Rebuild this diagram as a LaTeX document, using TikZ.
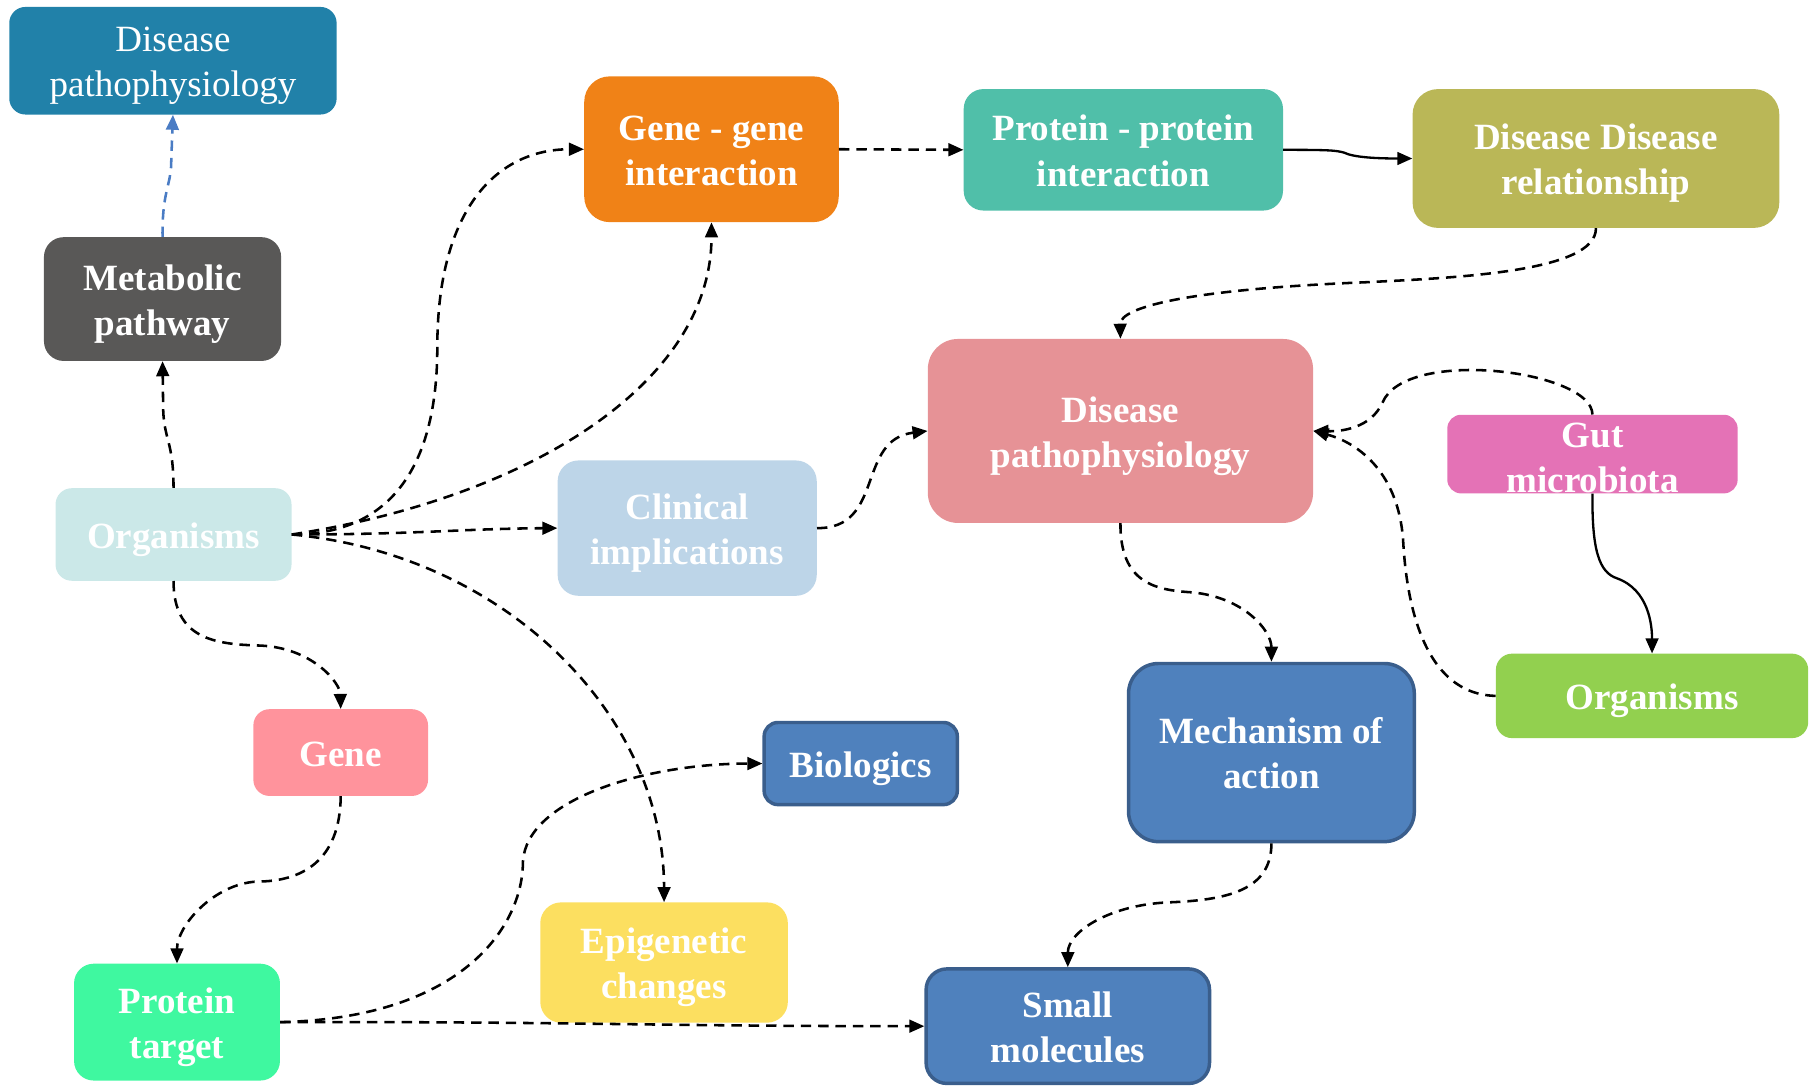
\documentclass[tikz,border=0pt]{standalone}
\usepackage{fontspec}
\setmainfont{Liberation Serif}
\usetikzlibrary{arrows.meta}

\definecolor{cDPa}{HTML}{2181A9}
\definecolor{cMet}{HTML}{595857}
\definecolor{cGG}{HTML}{F08217}
\definecolor{cPPI}{HTML}{50BFA9}
\definecolor{cDDR}{HTML}{BAB757}
\definecolor{cDPb}{HTML}{E69296}
\definecolor{cGut}{HTML}{E472B6}
\definecolor{cOrgA}{HTML}{CBE8E8}
\definecolor{cClin}{HTML}{BDD5E8}
\definecolor{cOrgB}{HTML}{92D04F}
\definecolor{cGene}{HTML}{FF939C}
\definecolor{cBlue}{HTML}{4F81BD}
\definecolor{cBlueEdge}{HTML}{3A5E8C}
\definecolor{cEpi}{HTML}{FCDF60}
\definecolor{cPT}{HTML}{3FF8A0}
\definecolor{cLink}{HTML}{4A7CC4}

% centred label lines, each line a full strut, set a touch low in its box
\newcommand\boxlines[1]{\raisebox{-4pt}[\height][\depth]{\begin{tabular}{@{}c@{}}#1\end{tabular}}}
% same, but taking no room, so the text may spill over a small box
\newcommand\boxlinesflat[1]{\raisebox{-12pt}[0pt][0pt]{\begin{tabular}{@{}c@{}}#1\end{tabular}}}

\tikzset{
  box/.style={rounded corners=17pt, text=white, inner sep=0pt,
    font=\fontsize{32}{39}\selectfont\bfseries},
  bluebox/.style={box, fill=cBlue, draw=cBlueEdge, line width=3pt, rounded corners=20pt},
  dashlink/.style={line width=2.2pt, dash pattern=on 9pt off 6pt,
    -{Triangle[length=13pt,width=11pt]}},
  solidlink/.style={line width=2pt, -{Triangle[length=13pt,width=11pt]}}
}

\begin{document}
\begin{tikzpicture}[x=1pt,y=-1pt]
\useasboundingbox (0,0) rectangle (1568,940);

% boxes
\node[box, fill=cDPa, minimum width=283pt, minimum height=93pt, rounded corners=14pt,
      font=\fontsize{32}{39}\selectfont] (dpa) at (149.5,52.5) {\boxlines{Disease\\pathophysiology}};
\node[box, fill=cMet, minimum width=205pt, minimum height=107pt] (met) at (140.5,258.5) {\boxlines{Metabolic\\pathway}};
\node[box, fill=cGG, minimum width=220pt, minimum height=126pt, rounded corners=22pt] (gg) at (615,129) {\boxlines{Gene - gene\\interaction}};
\node[box, fill=cPPI, minimum width=276pt, minimum height=105pt] (ppi) at (971,129.5) {\boxlines{Protein - protein\\interaction}};
\node[box, fill=cDDR, minimum width=317pt, minimum height=120pt, rounded corners=22pt] (ddr) at (1379.5,137) {\boxlines{Disease Disease\\relationship}};
\node[box, fill=cDPb, minimum width=333pt, minimum height=159pt, rounded corners=26pt] (dpb) at (968.5,372.5) {\boxlines{Disease\\pathophysiology}};
\node[box, fill=cGut, minimum width=251pt, minimum height=68pt, rounded corners=12pt] (gut) at (1376.5,392.5) {\boxlinesflat{Gut\\microbiota}};
\node[box, fill=cOrgA, minimum width=204pt, minimum height=80pt, rounded corners=14pt] (orga) at (150,462) {\boxlines{Organisms}};
\node[box, fill=cClin, minimum width=224pt, minimum height=117pt, rounded corners=18pt] (clin) at (594,456.5) {\boxlines{Clinical\\implications}};
\node[box, fill=cOrgB, minimum width=270pt, minimum height=73pt, rounded corners=14pt] (orgb) at (1428,601.5) {\boxlines{Organisms}};
\node[box, fill=cGene, minimum width=151pt, minimum height=75pt, rounded corners=14pt] (gene) at (294.5,650.5) {\boxlines{Gene}};
\node[bluebox, minimum width=167pt, minimum height=71pt, rounded corners=12pt] (bio) at (744,660) {\boxlines{Biologics}};
\node[bluebox, minimum width=247pt, minimum height=154pt, rounded corners=26pt] (moa) at (1099,650.5) {\boxlines{Mechanism of\\action}};
\node[box, fill=cEpi, minimum width=214pt, minimum height=104pt, rounded corners=18pt] (epi) at (574,832) {\boxlines{Epigenetic\\changes}};
\node[box, fill=cPT, minimum width=178pt, minimum height=101pt, rounded corners=17pt] (pt) at (153,883.5) {\boxlines{Protein\\target}};
\node[bluebox, minimum width=245pt, minimum height=99pt, rounded corners=18pt] (sm) at (923,887) {\boxlines{Small\\molecules}};

% connectors
\draw[dashlink, draw=cLink, -{Triangle[length=13pt,width=11pt,fill=cLink]}]
  (met.north) .. controls (140,165) and (148,160) .. (148,140) -- (dpa.south);
\draw[dashlink] (orga.north) .. controls (150,380) and (141,380) .. (141,350) -- (met.south);

\draw[dashlink] (orga.east) .. controls (340,462) and (378,400) .. (378,300)
  .. controls (378,180) and (430,129) .. (gg.west);
\draw[dashlink] (orga.east) .. controls (460,430) and (615,330) .. (gg.south);
\draw[dashlink] (orga.east) .. controls (360,462) and (400,457) .. (clin.west);
\draw[dashlink] (orga.east) .. controls (440,480) and (574,620) .. (epi.north);

\draw[dashlink] (orga.south) .. controls (150,552) and (185,557) .. (225,558)
  .. controls (270,560) and (294,590) .. (gene.north);
\draw[dashlink] (gene.south) .. controls (294,745) and (260,762) .. (222,762)
  .. controls (185,764) and (153,800) .. (pt.north);

\draw[dashlink] (pt.east) .. controls (400,880) and (452,800) .. (452,745)
  .. controls (455,690) and (560,660) .. (bio.west);
\draw[dashlink] (pt.east) .. controls (500,883) and (560,887) .. (sm.west);

\draw[dashlink] (clin.east) .. controls (765,457) and (740,380) .. (dpb.west);
\draw[dashlink] (gg.east) -- (ppi.west);
\draw[solidlink] (ppi.east) .. controls (1150,129.5) and (1155,130) .. (1162,132)
  .. controls (1170,136) and (1190,137) .. (ddr.west);

\draw[dashlink] (ddr.south) .. controls (1380,235) and (1260,240) .. (1180,244)
  .. controls (1030,250) and (968,265) .. (dpb.north);

\draw[dashlink] (gut.north) .. controls (1376,320) and (1215,300) .. (1195,348)
  .. controls (1185,370) and (1160,373) .. (dpb.east);
\draw[dashlink] (orgb.west) .. controls (1230,600) and (1216,520) .. (1213,470)
  .. controls (1210,410) and (1175,383) .. (dpb.east);
\draw[solidlink] (gut.south) .. controls (1376,475) and (1382,495) .. (1398,500)
  .. controls (1425,510) and (1428,540) .. (orgb.north);

\draw[dashlink] (dpb.south) .. controls (968,505) and (1000,510) .. (1030,512)
  .. controls (1075,516) and (1099,545) .. (moa.north);
\draw[dashlink] (moa.south) .. controls (1099,770) and (1060,778) .. (1010,780)
  .. controls (960,782) and (923,805) .. (sm.north);
\end{tikzpicture}
\end{document}
